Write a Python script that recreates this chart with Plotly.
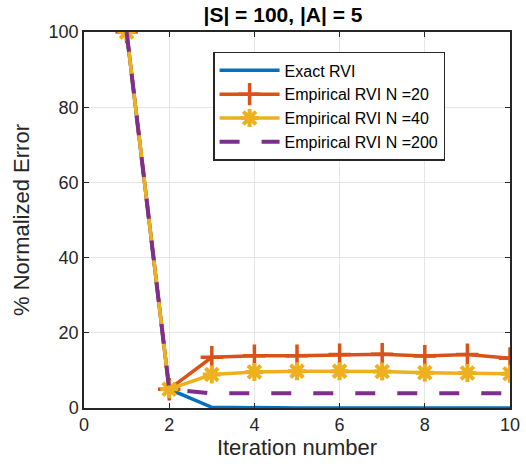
import plotly.graph_objects as go

iters = [1, 2, 3, 4, 5, 6, 7, 8, 9, 10]
exact = [100, 5, 0.2, 0, 0, 0, 0, 0, 0, 0]
n20 = [100, 5, 13.5, 13.9, 13.9, 14.2, 14.3, 13.8, 14.2, 13.2]
n40 = [100, 5, 8.9, 9.6, 9.8, 9.8, 9.7, 9.4, 9.3, 9.1]
n200 = [100, 5, 3.9, 3.9, 3.9, 3.9, 3.9, 3.9, 3.9, 3.9]

blue = "#0072BD"
orange = "#D95319"
yellow = "#EDB120"
purple = "#7E2F8E"

fig = go.Figure()
fig.add_trace(go.Scatter(x=iters, y=exact, mode="lines", name="Exact RVI",
                         line=dict(color=blue, width=3.5)))
fig.add_trace(go.Scatter(x=iters, y=n20, mode="lines+markers", name="Empirical RVI N =20",
                         line=dict(color=orange, width=3.5),
                         marker=dict(symbol="cross-thin", size=16, line=dict(color=orange, width=3.5))))
fig.add_trace(go.Scatter(x=iters, y=n40, mode="lines+markers", name="Empirical RVI N =40",
                         line=dict(color=yellow, width=3.5),
                         marker=dict(symbol="asterisk-open", size=15, line=dict(color=yellow, width=4))))
fig.add_trace(go.Scatter(x=iters, y=n200, mode="lines", name="Empirical RVI N =200",
                         line=dict(color=purple, width=4, dash="20px,22px")))

fig.update_layout(
    width=526, height=468,
    margin=dict(l=84, r=16, t=32, b=60),
    paper_bgcolor="white", plot_bgcolor="white",
    font=dict(family="Liberation Sans, Arial", size=18, color="#262626"),
    title=dict(text="<b>|S| = 100, |A| = 5</b>", x=0.538, xanchor="center", y=0.985, yanchor="top",
               font=dict(size=21, color="black")),
    legend=dict(x=0.303, y=0.947, xanchor="left", yanchor="top",
                bgcolor="white", bordercolor="#262626", borderwidth=1.5,
                font=dict(size=16, color="black"), tracegroupgap=0,
                itemwidth=60),
    showlegend=True,
)
fig.update_xaxes(range=[0, 10], tickvals=[0, 2, 4, 6, 8, 10], showgrid=True, gridcolor="#e6e6e6",
                 showline=True, linecolor="#262626", linewidth=1.5, mirror="allticks",
                 ticks="inside", ticklen=5, tickcolor="#262626", zeroline=False, automargin=False,
                 ticklabeloverflow="allow",
                 title=dict(text="Iteration number", font=dict(size=22, color="#262626"), standoff=2))
fig.update_yaxes(range=[0, 100], tickvals=[0, 20, 40, 60, 80, 100], showgrid=True, gridcolor="#e6e6e6",
                 showline=True, linecolor="#262626", linewidth=1.5, mirror="allticks",
                 ticks="inside", ticklen=5, tickcolor="#262626", zeroline=False, automargin=False,
                 title=dict(text="% Normalized Error", font=dict(size=22, color="#262626"), standoff=13))

# remove the browser's default 8px page margin so the figure fills the window
fig.write_html("out.html", config={"displayModeBar": False},
               post_script="document.body.style.margin='0';")
